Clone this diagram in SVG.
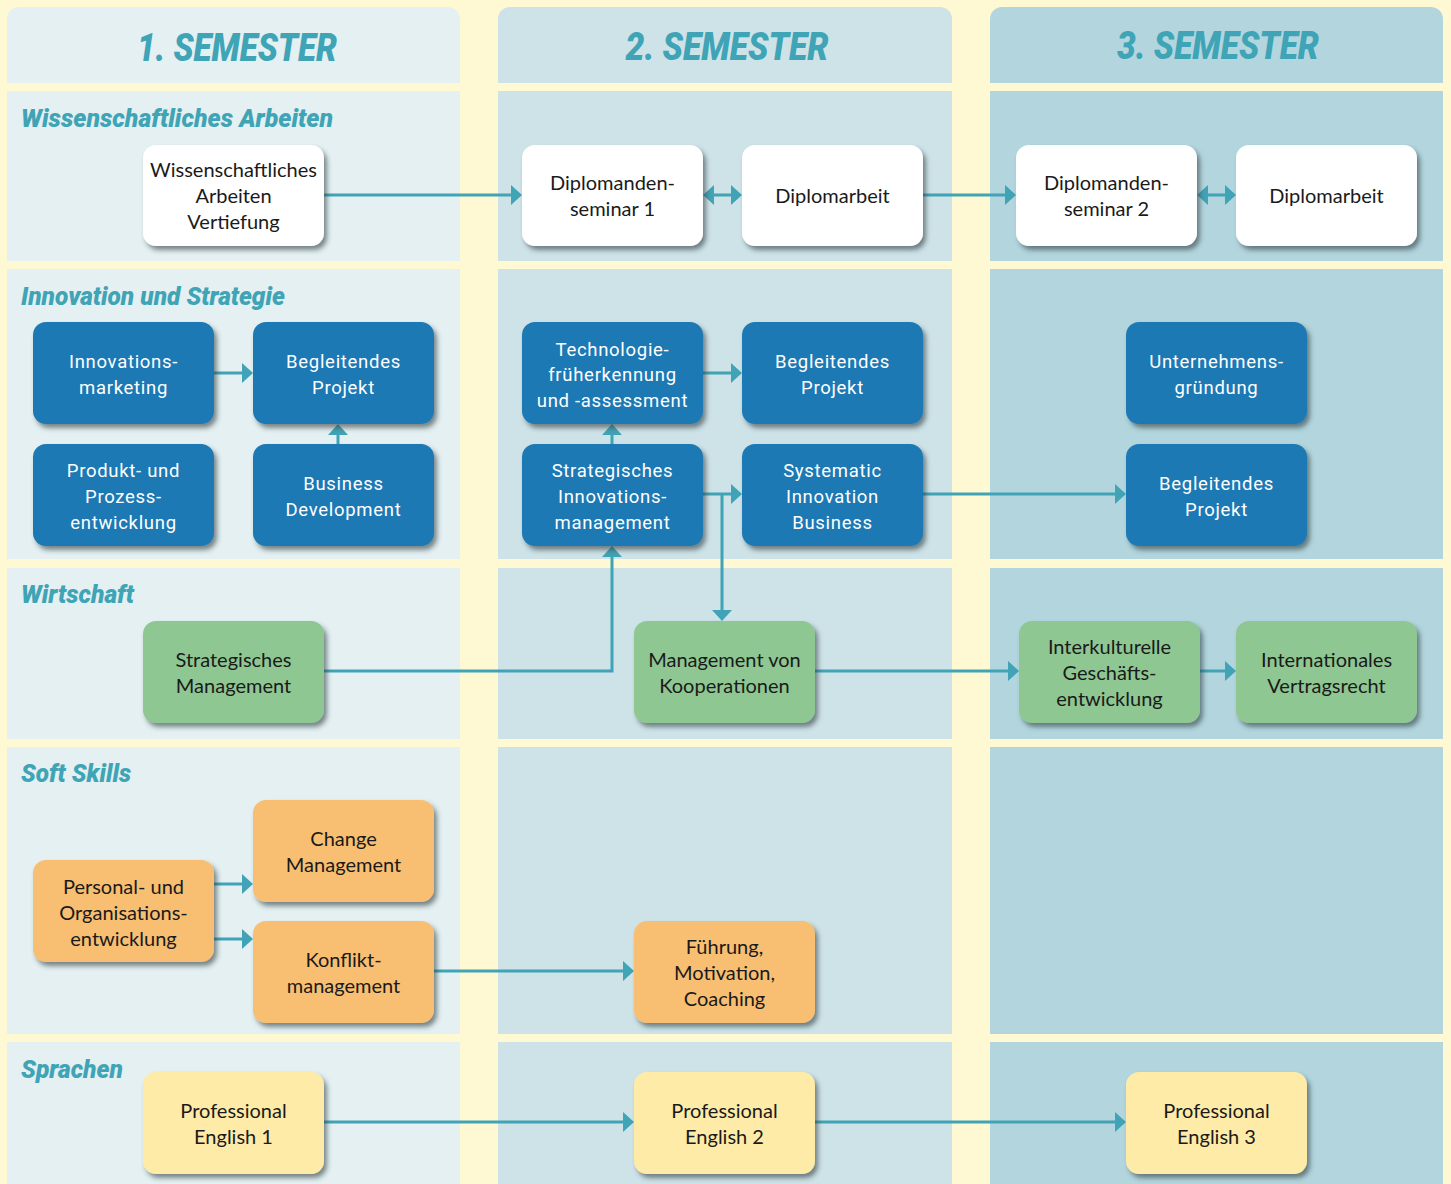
<svg xmlns="http://www.w3.org/2000/svg" width="1451" height="1184" viewBox="0 0 1451 1184">
<defs>
<filter id="sh" x="-10%" y="-10%" width="130%" height="140%">
<feDropShadow dx="3" dy="4" stdDeviation="2.5" flood-color="#2a3a40" flood-opacity="0.6"/>
</filter>
<marker id="ah" viewBox="0 0 11 20" refX="0" refY="10" markerWidth="11" markerHeight="20" markerUnits="userSpaceOnUse" orient="auto-start-reverse">
<path d="M0,0 L11,10 L0,20 Z" fill="#41a3b6"/>
</marker>
<style>
.c1{fill:#e4f0f2}.c2{fill:#cee3e8}.c3{fill:#b3d6de}
.hd{font-family:Roboto,"Liberation Sans",sans-serif;font-weight:900;font-style:italic;font-size:38px;fill:#3fa4b6;text-anchor:middle}
.sec{font-family:Roboto,"Liberation Sans",sans-serif;font-weight:900;font-style:italic;font-size:26px;fill:#3fa4b6}
.box rect{filter:url(#sh)}
.w rect{fill:#ffffff}.b rect{fill:#1d79b4}.g rect{fill:#8ec792}.o rect{fill:#f8bf72}.y rect{fill:#feeba8}
.box text{text-anchor:middle;font-size:20px}
.w text,.g text,.o text,.y text{font-family:Lato,"Open Sans",sans-serif;fill:#1a1a1a}
.b text{font-family:Roboto,"Liberation Sans",sans-serif;fill:#ffffff;font-size:18.5px;letter-spacing:0.7px}
.con path{fill:none;stroke:#41a3b6;stroke-width:3}
</style>
</defs>
<rect x="0" y="0" width="1451" height="1184" fill="#fef8d3"/>
<g id="columns">
<path class="c1" d="M7,83 V19 A12,12 0 0 1 19,7 H448 A12,12 0 0 1 460,19 V83 Z"/>
<path class="c2" d="M498,83 V19 A12,12 0 0 1 510,7 H940 A12,12 0 0 1 952,19 V83 Z"/>
<path class="c3" d="M990,83 V19 A12,12 0 0 1 1002,7 H1431 A12,12 0 0 1 1443,19 V83 Z"/>
<rect class="c1" x="7" y="91" width="453" height="170"/>
<rect class="c2" x="498" y="91" width="454" height="170"/>
<rect class="c3" x="990" y="91" width="453" height="170"/>
<rect class="c1" x="7" y="269" width="453" height="290"/>
<rect class="c2" x="498" y="269" width="454" height="290"/>
<rect class="c3" x="990" y="269" width="453" height="290"/>
<rect class="c1" x="7" y="568" width="453" height="171"/>
<rect class="c2" x="498" y="568" width="454" height="171"/>
<rect class="c3" x="990" y="568" width="453" height="171"/>
<rect class="c1" x="7" y="747" width="453" height="287"/>
<rect class="c2" x="498" y="747" width="454" height="287"/>
<rect class="c3" x="990" y="747" width="453" height="287"/>
<rect class="c1" x="7" y="1042" width="453" height="142"/>
<rect class="c2" x="498" y="1042" width="454" height="142"/>
<rect class="c3" x="990" y="1042" width="453" height="142"/>
</g>
<g id="headers">
<text class="hd" x="237" y="61" textLength="200" lengthAdjust="spacingAndGlyphs">1. SEMESTER</text>
<text class="hd" x="727" y="60" textLength="203" lengthAdjust="spacingAndGlyphs">2. SEMESTER</text>
<text class="hd" x="1218" y="59" textLength="202" lengthAdjust="spacingAndGlyphs">3. SEMESTER</text>
<text class="sec" x="21" y="127" textLength="312" lengthAdjust="spacingAndGlyphs">Wissenschaftliches Arbeiten</text>
<text class="sec" x="21" y="305" textLength="264" lengthAdjust="spacingAndGlyphs">Innovation und Strategie</text>
<text class="sec" x="21" y="603" textLength="113" lengthAdjust="spacingAndGlyphs">Wirtschaft</text>
<text class="sec" x="21" y="782" textLength="110" lengthAdjust="spacingAndGlyphs">Soft Skills</text>
<text class="sec" x="21" y="1078" textLength="102" lengthAdjust="spacingAndGlyphs">Sprachen</text>
</g>
<g id="connectors" class="con">
<path d="M324,195 H511" marker-end="url(#ah)"/>
<path d="M714,195 H731" marker-start="url(#ah)" marker-end="url(#ah)"/>
<path d="M923,195 H1005" marker-end="url(#ah)"/>
<path d="M1208,195 H1225" marker-start="url(#ah)" marker-end="url(#ah)"/>
<path d="M214,373 H242" marker-end="url(#ah)"/>
<path d="M703,373 H731" marker-end="url(#ah)"/>
<path d="M338,444 V435" marker-end="url(#ah)"/>
<path d="M612,444 V435" marker-end="url(#ah)"/>
<path d="M703,494 H731" marker-end="url(#ah)"/>
<path d="M722,494 V610" marker-end="url(#ah)"/>
<path d="M923,494 H1115" marker-end="url(#ah)"/>
<path d="M324,671 H612 V557" marker-end="url(#ah)"/>
<path d="M815,671 H1008" marker-end="url(#ah)"/>
<path d="M1200,671 H1225" marker-end="url(#ah)"/>
<path d="M214,884 H242" marker-end="url(#ah)"/>
<path d="M214,939 H242" marker-end="url(#ah)"/>
<path d="M434,971 H623" marker-end="url(#ah)"/>
<path d="M324,1122 H623" marker-end="url(#ah)"/>
<path d="M815,1122 H1115" marker-end="url(#ah)"/>
</g>
<g id="n-wiss1" class="box w"><rect x="143" y="145" width="181" height="101" rx="13"/><text x="233.5" y="177">Wissenschaftliches</text><text x="233.5" y="203">Arbeiten</text><text x="233.5" y="229">Vertiefung</text></g>
<g id="n-dipsem1" class="box w"><rect x="522" y="145" width="181" height="101" rx="13"/><text x="612.5" y="190">Diplomanden-</text><text x="612.5" y="216">seminar 1</text></g>
<g id="n-diparb1" class="box w"><rect x="742" y="145" width="181" height="101" rx="13"/><text x="832.5" y="203">Diplomarbeit</text></g>
<g id="n-dipsem2" class="box w"><rect x="1016" y="145" width="181" height="101" rx="13"/><text x="1106.5" y="190">Diplomanden-</text><text x="1106.5" y="216">seminar 2</text></g>
<g id="n-diparb2" class="box w"><rect x="1236" y="145" width="181" height="101" rx="13"/><text x="1326.5" y="203">Diplomarbeit</text></g>
<g id="n-innomark" class="box b"><rect x="33" y="322" width="181" height="102" rx="13"/><text x="123.5" y="368">Innovations-</text><text x="123.5" y="394">marketing</text></g>
<g id="n-begl1" class="box b"><rect x="253" y="322" width="181" height="102" rx="13"/><text x="343.5" y="368">Begleitendes</text><text x="343.5" y="394">Projekt</text></g>
<g id="n-produkt" class="box b"><rect x="33" y="444" width="181" height="102" rx="13"/><text x="123.5" y="477">Produkt- und</text><text x="123.5" y="503">Prozess-</text><text x="123.5" y="529">entwicklung</text></g>
<g id="n-busdev" class="box b"><rect x="253" y="444" width="181" height="102" rx="13"/><text x="343.5" y="490">Business</text><text x="343.5" y="516">Development</text></g>
<g id="n-techno" class="box b"><rect x="522" y="322" width="181" height="102" rx="13"/><text x="612.5" y="356">Technologie-</text><text x="612.5" y="381">früherkennung</text><text x="612.5" y="407">und -assessment</text></g>
<g id="n-begl2" class="box b"><rect x="742" y="322" width="181" height="102" rx="13"/><text x="832.5" y="368">Begleitendes</text><text x="832.5" y="394">Projekt</text></g>
<g id="n-stratinno" class="box b"><rect x="522" y="444" width="181" height="102" rx="13"/><text x="612.5" y="477">Strategisches</text><text x="612.5" y="503">Innovations-</text><text x="612.5" y="529">management</text></g>
<g id="n-system" class="box b"><rect x="742" y="444" width="181" height="102" rx="13"/><text x="832.5" y="477">Systematic</text><text x="832.5" y="503">Innovation</text><text x="832.5" y="529">Business</text></g>
<g id="n-untern" class="box b"><rect x="1126" y="322" width="181" height="102" rx="13"/><text x="1216.5" y="368">Unternehmens-</text><text x="1216.5" y="394">gründung</text></g>
<g id="n-begl3" class="box b"><rect x="1126" y="444" width="181" height="102" rx="13"/><text x="1216.5" y="490">Begleitendes</text><text x="1216.5" y="516">Projekt</text></g>
<g id="n-stratman" class="box g"><rect x="143" y="621" width="181" height="102" rx="13"/><text x="233.5" y="667">Strategisches</text><text x="233.5" y="693">Management</text></g>
<g id="n-koop" class="box g"><rect x="634" y="621" width="181" height="102" rx="13"/><text x="724.5" y="667">Management von</text><text x="724.5" y="693">Kooperationen</text></g>
<g id="n-interk" class="box g"><rect x="1019" y="621" width="181" height="102" rx="13"/><text x="1109.5" y="654">Interkulturelle</text><text x="1109.5" y="680">Geschäfts-</text><text x="1109.5" y="706">entwicklung</text></g>
<g id="n-intvr" class="box g"><rect x="1236" y="621" width="181" height="102" rx="13"/><text x="1326.5" y="667">Internationales</text><text x="1326.5" y="693">Vertragsrecht</text></g>
<g id="n-change" class="box o"><rect x="253" y="800" width="181" height="102" rx="13"/><text x="343.5" y="846">Change</text><text x="343.5" y="872">Management</text></g>
<g id="n-personal" class="box o"><rect x="33" y="860" width="181" height="102" rx="13"/><text x="123.5" y="894">Personal- und</text><text x="123.5" y="920">Organisations-</text><text x="123.5" y="946">entwicklung</text></g>
<g id="n-konflikt" class="box o"><rect x="253" y="921" width="181" height="102" rx="13"/><text x="343.5" y="967">Konflikt-</text><text x="343.5" y="993">management</text></g>
<g id="n-fuehrung" class="box o"><rect x="634" y="921" width="181" height="102" rx="13"/><text x="724.5" y="954">Führung,</text><text x="724.5" y="980">Motivation,</text><text x="724.5" y="1006">Coaching</text></g>
<g id="n-pe1" class="box y"><rect x="143" y="1072" width="181" height="102" rx="13"/><text x="233.5" y="1118">Professional</text><text x="233.5" y="1144">English 1</text></g>
<g id="n-pe2" class="box y"><rect x="634" y="1072" width="181" height="102" rx="13"/><text x="724.5" y="1118">Professional</text><text x="724.5" y="1144">English 2</text></g>
<g id="n-pe3" class="box y"><rect x="1126" y="1072" width="181" height="102" rx="13"/><text x="1216.5" y="1118">Professional</text><text x="1216.5" y="1144">English 3</text></g>
</svg>
